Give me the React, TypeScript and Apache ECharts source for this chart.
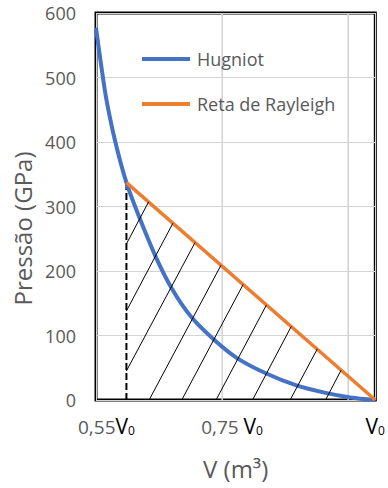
import React, { useEffect, useRef } from "react";
import * as echarts from "echarts";

// ---- data ----
const hugoniotV = [0.495, 0.505, 0.514, 0.53, 0.55, 0.573, 0.603, 0.632, 0.667, 0.709, 0.75, 0.803, 0.856, 0.91, 0.955, 1.0];
const hugoniotP = [577, 515, 465, 400, 337, 284, 222, 173, 129, 93, 65, 41, 23, 11, 4, 0];
const rayleighV = [0.55, 1.0];
const rayleighP = [337, 0];
const v1LineV = [0.55, 0.55];
const v1LineP = [0, 337];
const hatchStartV = [0.55, 0.55, 0.55, 0.591, 0.65, 0.712, 0.778, 0.846, 0.91];
const hatchStartP = [242, 138, 45, 0, 0, 0, 0, 0, 0];
const hatchEndV = [0.59, 0.634, 0.674, 0.721, 0.761, 0.803, 0.848, 0.895, 0.938];
const hatchEndP = [307, 274, 244, 209, 179, 147, 114, 79, 46];
const xMin = 0.495;
const xMax = 1.0;
const xGridStep = 0.2277;
const xGridValues = [0.7227, 0.9504];
const xTickValues = [0.55, 0.75, 1.0];
const xTickPrefixes = ["0,55", "0,75 ", ""];
const xTickPads = [40, 10, 0];
const yTicks = [0, 100, 200, 300, 400, 500, 600];
const seriesNames = ["Hugniot", "Reta de Rayleigh"];

const FONT = "'Open Sans', sans-serif";
const GRAY = "#595959";
const GRID_GRAY = "#d4d4d4";

export default function App() {
  const ref = useRef<HTMLDivElement>(null);
  useEffect(() => {
    if (!ref.current) return;
    const chart = echarts.init(ref.current, undefined, { renderer: "svg" });
    const rich: any = {
      g: { fontFamily: FONT, fontSize: 19, color: GRAY, verticalAlign: "bottom", lineHeight: 20 },
      v: { fontFamily: FONT, fontSize: 21, color: "#000", verticalAlign: "bottom", lineHeight: 20 },
      s: { fontFamily: FONT, fontSize: 12, color: "#000", verticalAlign: "bottom", lineHeight: 16 },
    };
    xTickPads.forEach((p, i) => {
      rich["p" + i] = { width: p, lineHeight: 20 };
    });
    const yMin = yTicks[0];
    const yMax = yTicks[yTicks.length - 1];
    const gridSeries = xGridValues.map((x, i) => ({
      name: "vgrid" + i,
      type: "line",
      data: [
        [x, yMin],
        [x, yMax],
      ],
      symbol: "none",
      lineStyle: { color: GRID_GRAY, width: 1 },
      z: 1,
      silent: true,
    }));
    const option: any = {
      animation: false,
      grid: {
        left: 96,
        right: 7,
        top: 13,
        bottom: 88,
        show: true,
        borderColor: "#000",
        borderWidth: 3,
      },
      legend: {
        data: seriesNames,
        orient: "vertical",
        left: 142,
        top: 50,
        padding: 0,
        icon: "rect",
        itemWidth: 48,
        itemHeight: 4,
        itemGap: 27,
        textStyle: { fontFamily: FONT, fontSize: 18, color: GRAY, padding: [0, 0, 0, 2] },
      },
      xAxis: {
        type: "value",
        min: xMin,
        max: xMax,
        interval: xGridStep,
        axisLine: { show: false },
        axisTick: { show: false },
        splitLine: { show: true, lineStyle: { color: GRID_GRAY, width: 1 } },
        name: "V (m³)",
        nameLocation: "middle",
        nameGap: 56,
        nameTextStyle: { fontFamily: FONT, fontSize: 24, color: GRAY },
        axisLabel: {
          customValues: xTickValues,
          margin: 16,
          formatter: (v: number) => {
            const i = xTickValues.findIndex((t) => Math.abs(t - v) < 1e-6);
            if (i < 0) return "";
            const pre = xTickPrefixes[i] ? `{g|${xTickPrefixes[i]}}` : "";
            const pad = xTickPads[i] ? `{p${i}|}` : "";
            return `${pre}{v|V}{s|0}${pad}`;
          },
          rich,
        },
      },
      yAxis: {
        type: "value",
        min: yMin,
        max: yMax,
        interval: 100,
        axisLine: { show: false },
        axisTick: { show: false },
        splitLine: { show: true, lineStyle: { color: GRID_GRAY, width: 1 } },
        axisLabel: { fontFamily: FONT, fontSize: 18, color: GRAY, margin: 20 },
        name: "Pressão (GPa)",
        nameLocation: "middle",
        nameGap: 58,
        nameTextStyle: { fontFamily: FONT, fontSize: 24, color: GRAY, padding: [0, 44, 0, 0] },
      },
      series: [
        ...gridSeries,
        {
          name: seriesNames[0],
          type: "line",
          data: hugoniotV.map((v, i) => [v, hugoniotP[i]]),
          smooth: 0.3,
          symbol: "none",
          lineStyle: { color: "#4472C4", width: 4 },
          itemStyle: { color: "#4472C4" },
          z: 3,
        },
        {
          name: seriesNames[1],
          type: "line",
          data: rayleighV.map((v, i) => [v, rayleighP[i]]),
          symbol: "none",
          lineStyle: { color: "#ED7D31", width: 3.5 },
          itemStyle: { color: "#ED7D31" },
          z: 4,
        },
        {
          name: "V1",
          type: "line",
          data: v1LineV.map((v, i) => [v, v1LineP[i]]),
          symbol: "none",
          lineStyle: { color: "#000", width: 2, type: [7, 3] },
          z: 2,
          silent: true,
        },
        {
          name: "hatch",
          type: "lines",
          coordinateSystem: "cartesian2d",
          data: hatchStartV.map((v, i) => ({
            coords: [
              [v, hatchStartP[i]],
              [hatchEndV[i], hatchEndP[i]],
            ],
          })),
          lineStyle: { color: "#000", width: 1, opacity: 1 },
          z: 5,
          silent: true,
        },
      ],
    };
    chart.setOption(option);
    return () => chart.dispose();
  }, []);
  return (
    <div
      ref={ref}
      style={{ position: "fixed", left: 0, top: 0, width: 388, height: 488, background: "#fff" }}
    />
  );
}
